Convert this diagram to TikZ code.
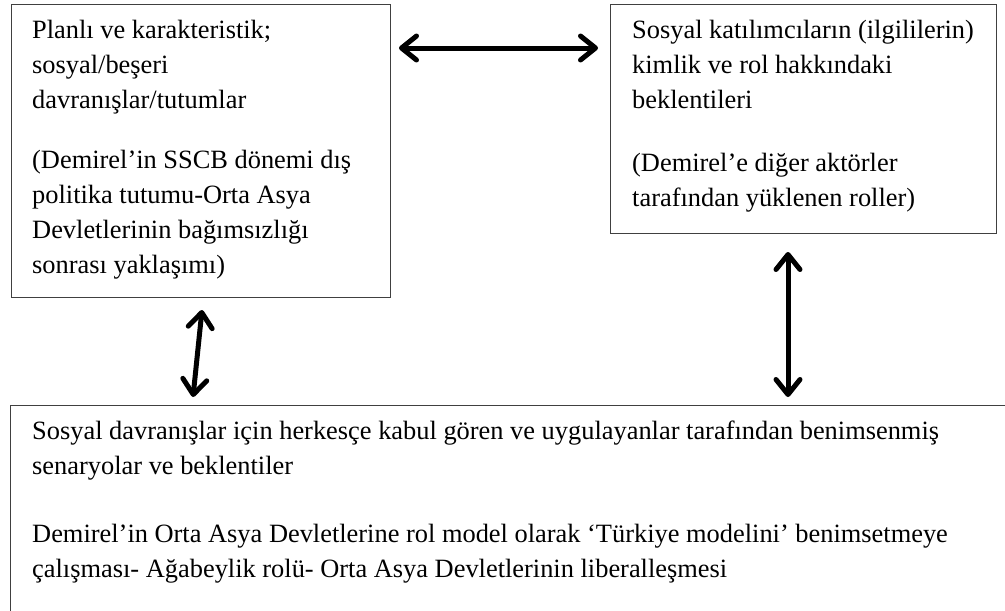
\documentclass[tikz,border=0pt]{standalone}
\usepackage{fontspec}
\setmainfont{Liberation Serif}
\usetikzlibrary{arrows.meta,positioning}

\tikzset{
  kutu/.style={draw=black!75, line width=1.3pt, anchor=north west, inner sep=0pt},
  yazi/.style={anchor=north west, inner sep=0pt, align=left,
    font=\fontsize{26.4}{35}\selectfont},
  okucu/.tip={Straight Barb[length=15pt, width=24pt, line width=5pt, round]},
  ciftok/.style={line width=5pt, okucu-okucu}
}

\begin{document}
\begin{tikzpicture}[x=1pt, y=-1pt]
  \useasboundingbox (0,0) rectangle (1005,611);
  \clip (0,0) rectangle (1005,611);
  % Kutular
  \node[kutu, minimum width=379pt, minimum height=293pt] (planli) at (11,4) {};
  \node[kutu, minimum width=386pt, minimum height=229pt] (beklenti) at (610,4) {};
  \node[kutu, minimum width=1005pt, minimum height=230pt] (senaryo) at (10,405) {};
  % Metinler
  \node[yazi, below right=16pt and 21pt of planli.north west] (planliYazi)
    {Planlı ve karakteristik;\\ sosyal/beşeri\\ davranışlar/tutumlar\\[25pt]
     (Demirel’in SSCB dönemi dış\\ politika tutumu-Orta Asya\\
     Devletlerinin bağımsızlığı\\ sonrası yaklaşımı)};
  \node[yazi, below right=16pt and 22pt of beklenti.north west] (beklentiYazi)
    {Sosyal katılımcıların (ilgililerin)\\ kimlik ve rol hakkındaki\\ beklentileri\\[28pt]
     (Demirel’e diğer aktörler\\ tarafından yüklenen roller)};
  \node[yazi, below right=16pt and 22pt of senaryo.north west] (senaryoYazi)
    {Sosyal davranışlar için herkesçe kabul gören ve uygulayanlar tarafından benimsenmiş\\
     senaryolar ve beklentiler\\[33pt]
     Demirel’in Orta Asya Devletlerine rol model olarak ‘Türkiye modelini’ benimsetmeye\\
     çalışması- Ağabeylik rolü- Orta Asya Devletlerinin liberalleşmesi};
  % Oklar
  \coordinate (ok1a) at (399,48);
  \coordinate (ok1b) at (598,48);
  \coordinate (ok2a) at (202,310);
  \coordinate (ok2b) at (193,397);
  \coordinate (ok3a) at (788,252);
  \coordinate (ok3b) at (788,397);
  \draw[ciftok] (ok1a) -- (ok1b);
  \draw[ciftok] (ok2a) -- (ok2b);
  \draw[ciftok] (ok3a) -- (ok3b);
\end{tikzpicture}
\end{document}
